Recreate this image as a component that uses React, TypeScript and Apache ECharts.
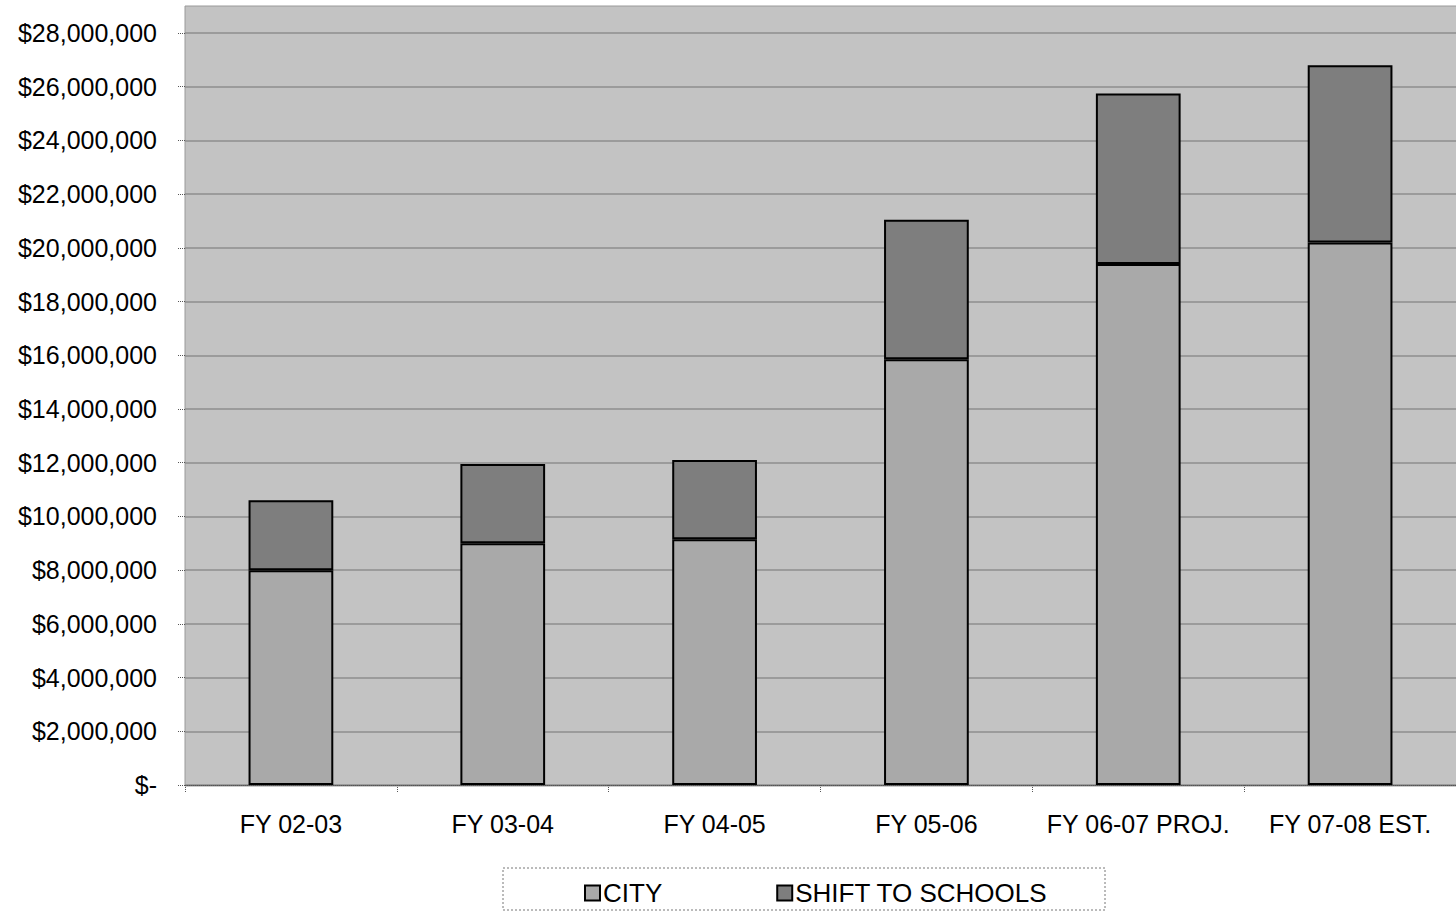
import React, { useEffect, useRef } from "react";
import * as echarts from "echarts";

const categories = ["FY 02-03", "FY 03-04", "FY 04-05", "FY 05-06", "FY 06-07 PROJ.", "FY 07-08 EST."];
const cityValues = [8000000, 9000000, 9150000, 15850000, 19400000, 20200000];
const shiftValues = [2600000, 2950000, 2950000, 5200000, 6350000, 6600000];
const seriesNames = ["CITY", "SHIFT TO SCHOOLS"];

const FONT = "'Liberation Sans', Arial, sans-serif";

export default function App() {
  const ref = useRef<HTMLDivElement>(null);
  useEffect(() => {
    if (!ref.current) return;
    const chart = echarts.init(ref.current, null, { renderer: "svg" });
    chart.setOption({
      animation: false,
      backgroundColor: "#ffffff",
      textStyle: { fontFamily: FONT },
      grid: { left: 185, right: -10, top: 33, bottom: 128, containLabel: false },
      graphic: [
        {
          type: "rect",
          z: -100,
          silent: true,
          shape: { x: 185, y: 6, width: 1290, height: 780 },
          style: { fill: "#c3c3c3", stroke: "#9a9a9a", lineWidth: 1 },
        },
        {
          type: "rect",
          z: -100,
          silent: true,
          shape: { x: 503, y: 868, width: 602, height: 42 },
          style: { fill: "#ffffff", stroke: "#777777", lineWidth: 1, lineDash: [2, 2] },
        },
      ],
      legend: {
        data: seriesNames,
        left: 579,
        top: 875,
        itemGap: 114,
        itemWidth: 15,
        itemHeight: 15,
        icon: "rect",
        textStyle: { fontSize: 26, color: "#000", fontFamily: FONT, padding: [0, 0, 0, -2] },
      },
      xAxis: {
        type: "category",
        data: categories,
        axisLine: { show: true, lineStyle: { color: "#555", width: 1, type: "dotted" } },
        axisTick: { show: true, length: 7, lineStyle: { color: "#555", type: "dotted" } },
        axisLabel: { fontSize: 25, color: "#000", margin: 26, fontFamily: FONT, interval: 0 },
        splitLine: { show: false },
      },
      yAxis: {
        type: "value",
        min: 0,
        max: 28000000,
        interval: 2000000,
        axisLine: { show: false },
        axisTick: { show: true, length: 8, lineStyle: { color: "#555", type: "dotted" } },
        axisLabel: {
          fontSize: 25,
          color: "#000",
          margin: 28,
          fontFamily: FONT,
          formatter: (v: number) => (v === 0 ? "$-" : "$" + v.toLocaleString("en-US")),
        },
        splitLine: { show: true, lineStyle: { color: "#8e8e8e", width: 1.5 } },
      },
      series: [
        {
          name: seriesNames[0],
          type: "bar",
          stack: "total",
          barWidth: "40%",
          data: cityValues,
          itemStyle: { color: "#a9a9a9", borderColor: "#000", borderWidth: 2 },
        },
        {
          name: seriesNames[1],
          type: "bar",
          stack: "total",
          barWidth: "40%",
          data: shiftValues,
          itemStyle: { color: "#7e7e7e", borderColor: "#000", borderWidth: 2 },
        },
      ],
    });
    return () => chart.dispose();
  }, []);
  return (
    <div style={{ position: "absolute", left: 0, top: 0, width: 1456, height: 913, overflow: "hidden" }}>
      <div ref={ref} style={{ width: 1456, height: 913 }} />
    </div>
  );
}
